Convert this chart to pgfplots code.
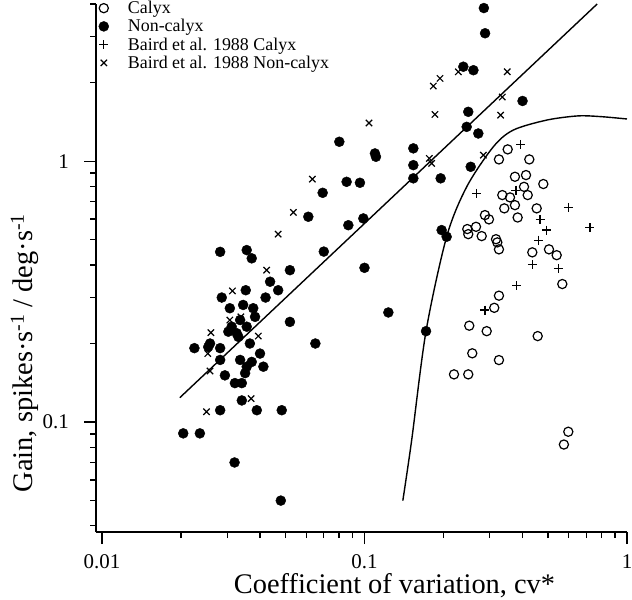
\documentclass[border=0pt]{standalone}
\usepackage{pgfplots}
\pgfplotsset{compat=1.18}
\usepackage{fontspec}
\setmainfont{Liberation Serif}

\pgfplotstableread{
x y
0.0282 0.449
0.0356 0.456
0.0372 0.424
0.0520 0.382
0.0437 0.345
0.0469 0.320
0.0286 0.300
0.0353 0.320
0.0420 0.300
0.0307 0.273
0.0345 0.281
0.0377 0.273
0.0383 0.253
0.0520 0.242
0.0336 0.246
0.0312 0.232
0.0356 0.232
0.0303 0.222
0.0326 0.219
0.0258 0.200
0.0254 0.194
0.0282 0.192
0.0225 0.192
0.0366 0.200
0.0331 0.212
0.0400 0.183
0.0282 0.173
0.0336 0.173
0.0372 0.170
0.0356 0.163
0.0412 0.163
0.0294 0.151
0.0351 0.154
0.0321 0.141
0.0341 0.141
0.0341 0.121
0.0389 0.111
0.0484 0.111
0.0282 0.111
0.0204 0.0905
0.0236 0.0905
0.238 2.30
0.260 2.23
0.2485 1.545
0.2451 1.353
0.2714 1.276
0.2539 0.951
0.0802 1.186
0.1096 1.070
0.1106 1.039
0.1535 1.119
0.1535 0.965
0.1535 0.859
0.1951 0.859
0.0855 0.833
0.0961 0.826
0.0693 0.756
0.0611 0.612
0.0868 0.568
0.0990 0.603
0.1968 0.544
0.2056 0.513
0.1233 0.263
0.1716 0.223
0.285 3.86
0.288 3.09
0.40 1.70
0.07 0.45
0.10 0.39
0.065 0.20
0.032 0.07
0.048 0.05
}\noncalyx

\pgfplotstableread{
x y
0.3512 1.109
0.3253 1.015
0.4245 1.015
0.4124 0.884
0.3743 0.871
0.4800 0.817
0.4053 0.797
0.4186 0.741
0.3350 0.741
0.3584 0.726
0.3743 0.678
0.3409 0.659
0.3833 0.608
0.4529 0.659
0.2877 0.621
0.2980 0.598
0.2464 0.549
0.2660 0.560
0.2485 0.525
0.2796 0.516
0.3170 0.502
0.3206 0.488
0.3253 0.459
0.4358 0.447
0.5045 0.459
0.5397 0.436
0.5670 0.338
0.3253 0.305
0.3122 0.274
0.2507 0.234
0.2921 0.223
0.4569 0.2135
0.2574 0.1834
0.3253 0.1728
0.2193 0.1523
0.2485 0.1523
0.5976 0.0918
0.575 0.082
}\calyx

\pgfplotstableread{
x y
0.394 1.16
0.2676 0.752
0.3776 0.774
0.5976 0.665
0.4663 0.598
0.4944 0.544
0.4594 0.498
0.7228 0.555
0.4358 0.402
0.5473 0.388
0.380 0.333
0.2877 0.2687
}\bairdcalyx

\pgfplotstableread{
x y
0.0469 0.525
0.0424 0.382
0.0314 0.318
0.0307 0.246
0.0338 0.253
0.0260 0.220
0.0253 0.183
0.0394 0.2135
0.0258 0.157
0.0370 0.123
0.0250 0.1095
0.1829 1.939
0.1940 2.075
0.2277 2.198
0.1856 1.510
0.104 1.40
0.1766 1.024
0.1803 0.980
0.0633 0.853
0.0536 0.636
0.2836 1.054
0.35 2.2
0.335 1.76
0.33 1.5
}\bairdnoncalyx

\pgfplotstableread{
x y
0.14 0.05
0.1513 0.0853
0.1716 0.223
0.2056 0.513
0.2451 0.797
0.3095 1.134
0.3689 1.315
0.4944 1.436
0.65 1.49
0.8 1.48
1.0 1.45
}\curve

\begin{document}
\begin{tikzpicture}
\begin{axis}[
  xmode=log, ymode=log,
  xmin=0.00949, xmax=1, ymin=0.0379, ymax=4.0,
  scale only axis, width=531bp, height=528bp,
  at={(0,0)}, anchor=south west,
  axis x line*=bottom, axis y line*=left,
  axis line style={line width=1.3bp},
  tick align=outside,
  major tick length=12bp, minor tick length=6bp,
  every tick/.style={black, line width=1.2bp},
  xtick={0.01,0.1,1}, xticklabels={0.01,0.1,1},
  ytick={0.1,1}, yticklabels={0.1,1},
  minor xtick={0.02,0.03,0.04,0.05,0.06,0.07,0.08,0.09,0.2,0.3,0.4,0.5,0.6,0.7,0.8,0.9},
  minor ytick={0.04,0.05,0.06,0.07,0.08,0.09,0.2,0.3,0.4,0.5,0.6,0.7,0.8,0.9,2,3,4},
  /pgf/number format/assume math mode=true,
  ticklabel style={font=\fontsize{21}{21}\selectfont, inner sep=1bp},
  xticklabel style={anchor=base, yshift=-24bp},
  yticklabel style={anchor=east, xshift=-14bp},
  xlabel={Coefficient of variation, cv*},
  ylabel={Gain, spikes\textperiodcentered s\textsuperscript{-1} / deg\textperiodcentered s\textsuperscript{-1}},
  every axis x label/.style={at={([xshift=33bp,yshift=-61bp]axis description cs:0.5,0)}, anchor=base, inner sep=0pt, font=\fontsize{28.5}{28.5}\selectfont},
  every axis y label/.style={at={([xshift=-63bp,yshift=-85bp]axis description cs:0,0.5)}, rotate=90, anchor=base, inner sep=0pt, font=\fontsize{28.5}{28.5}\selectfont},
  legend style={at={(axis description cs:0,1)}, anchor=north west, draw=none, fill=none,
    font=\fontsize{18}{18}\selectfont, inner sep=0pt, row sep=0.3bp, xshift=2bp, yshift=5bp,
    nodes={inner xsep=2.5bp, inner ysep=2bp}},
  legend cell align=left,
  legend image code/.code={\path (-5bp,0bp) (21bp,0bp); \draw[#1] plot coordinates {(0bp,0bp)};},
  clip=false,
]
\addplot[black, line width=1.4bp, forget plot] coordinates {(0.0198,0.124) (0.77,4.0)};
\addplot[black, line width=1.4bp, smooth, tension=0.5, forget plot] table {\curve};
\addplot[only marks, mark=o, mark size=4.6bp, black, line width=1.2bp] table {\calyx};
\addlegendentry{Calyx}
\addplot[only marks, mark=*, mark size=5bp, black] table {\noncalyx};
\addlegendentry{Non-calyx}
\addplot[only marks, mark=+, mark size=4.5bp, black, line width=1.2bp] table {\bairdcalyx};
\addlegendentry{Baird et al. 1988 Calyx}
\addplot[only marks, mark=x, mark size=4.5bp, black, line width=1.2bp] table {\bairdnoncalyx};
\addlegendentry{Baird et al. 1988 Non-calyx}
\end{axis}
\pgfresetboundingbox
\path[use as bounding box] (-96bp,-68bp) rectangle (536bp,532bp);
\end{tikzpicture}
\end{document}
